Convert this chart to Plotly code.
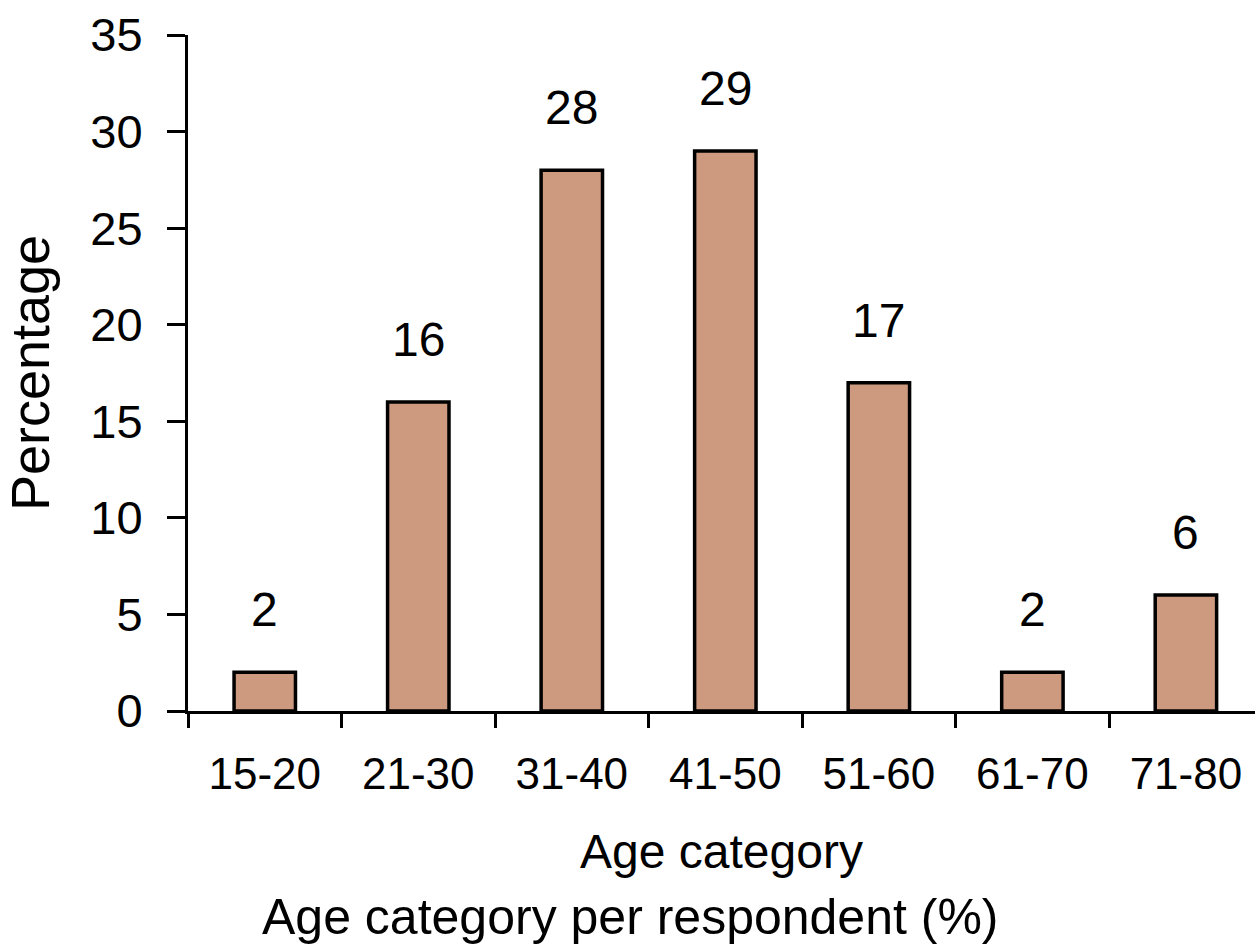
import plotly.graph_objects as go

# Share of respondents in each age band (%)
age_groups = ["15-20", "21-30", "31-40", "41-50", "51-60", "61-70", "71-80"]
percentages = [2, 16, 28, 29, 17, 2, 6]
y_ticks = [0, 5, 10, 15, 20, 25, 30, 35]

FONT = "Liberation Sans, Arial, sans-serif"
BAR_COLOR = "#CD9A80"

fig = go.Figure()
fig.add_trace(go.Bar(
    x=age_groups,
    y=percentages,
    width=0.4,
    marker=dict(color=BAR_COLOR, line=dict(color="black", width=3.5)),
    hoverinfo="skip",
))

# Value labels sitting above each bar
for cat, val in zip(age_groups, percentages):
    fig.add_annotation(
        x=cat, y=val, text=str(val), showarrow=False,
        xref="x", yref="y", yanchor="bottom", yshift=34,
        font=dict(family=FONT, size=48, color="black"),
    )

# Caption below the axis title
fig.add_annotation(
    text="Age category per respondent (%)", showarrow=False,
    xref="paper", yref="paper", x=0.415, y=-0.349,
    xanchor="center", yanchor="bottom",
    font=dict(family=FONT, size=50, color="black"),
)

fig.update_layout(
    width=1255, height=945,
    margin=dict(l=188, r=0, t=35, b=234),
    paper_bgcolor="white", plot_bgcolor="white",
    showlegend=False,
    bargap=0.6,
    font=dict(family=FONT, color="black"),
)

fig.update_xaxes(
    type="category",
    range=[-0.5, 6.45],
    showline=True, linecolor="black", linewidth=3,
    ticks="outside", tickson="boundaries", ticklen=14, tickwidth=3, tickcolor="black",
    ticklabelstandoff=22,
    tickfont=dict(family=FONT, size=44, color="black"),
    showgrid=False, zeroline=False,
    title=dict(text="Age category", standoff=38,
               font=dict(family=FONT, size=48, color="black")),
)

fig.update_yaxes(
    range=[0, 35],
    tickvals=y_ticks,
    showline=True, linecolor="black", linewidth=3,
    ticks="outside", ticklen=18, tickwidth=3, tickcolor="black",
    ticklabelstandoff=15,
    tickfont=dict(family=FONT, size=47, color="black"),
    showgrid=False, zeroline=False,
    title=dict(text="Percentage", standoff=28,
               font=dict(family=FONT, size=54, color="black")),
)

fig.write_html("out.html")
